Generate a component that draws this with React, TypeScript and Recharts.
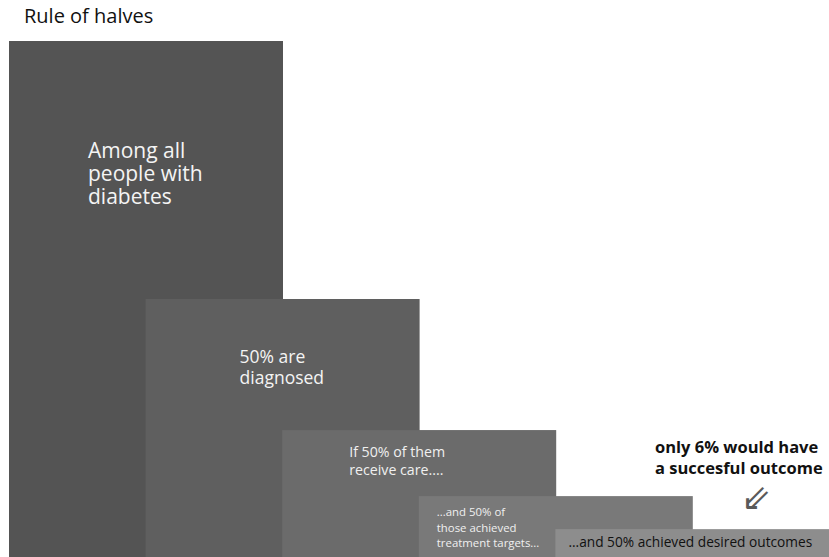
import { Bar, BarChart, XAxis, YAxis } from 'recharts';

// Each stage keeps roughly half of the one before it
const stages = ['all', 'diagnosed', 'care', 'targets', 'outcomes'];
const shares = [100, 50, 24.6, 11.8, 5.4];
const stageLabels = [
  ['Among all', 'people with', 'diabetes'],
  ['50% are', 'diagnosed'],
  ['If 50% of them', 'receive care....'],
  ['...and 50% of', 'those achieved', 'treatment targets...'],
  ['...and 50% achieved desired outcomes'],
];
const title = 'Rule of halves';
const note = ['only 6% would have', 'a succesful outcome'];

const fills = ['#545454', '#5f5f5f', '#6b6b6b', '#797979', '#8d8d8d'];
const labelStyle = [
  { dx: 79, dy: 117, size: 21, lh: 23, color: '#f4f4f4' },
  { dx: 94, dy: 64, size: 17.5, lh: 21, color: '#f4f4f4' },
  { dx: 67, dy: 27, size: 14.2, lh: 18, color: '#f0f0f0' },
  { dx: 18, dy: 20, size: 11.4, lh: 15.5, color: '#f0f0f0' },
  { dx: 13, dy: 18, size: 13.7, lh: 16, color: '#111111' },
];

const data = stages.map((stage, i) => ({ stage, share: shares[i] }));

const FONT = '"Open Sans", "Noto Sans", sans-serif';

function StageBlock(props: any) {
  const { x, y, width, height, index } = props;
  const s = labelStyle[index];
  return (
    <g>
      <rect x={x} y={y} width={width * 2} height={height} fill={fills[index]} />
      <text x={x + s.dx} y={y + s.dy} fill={s.color} fontSize={s.size} fontFamily={FONT}>
        {stageLabels[index].map((line, k) => (
          <tspan key={k} x={x + s.dx} dy={k === 0 ? 0 : s.lh}>
            {line}
          </tspan>
        ))}
      </text>
    </g>
  );
}

export default function App() {
  return (
    <div style={{ position: 'absolute', left: 0, top: 0, width: 829, height: 557, background: '#fff', fontFamily: FONT }}>
      <div style={{ position: 'absolute', left: 24, top: 2, fontSize: 20, color: '#111' }}>{title}</div>
      <BarChart
        width={829}
        height={557}
        data={data}
        margin={{ top: 41, right: 137, bottom: 0, left: 9 }}
        barCategoryGap={0}
        barGap={0}
      >
        <XAxis dataKey="stage" type="category" hide />
        <YAxis type="number" domain={[0, 100]} hide />
        <Bar dataKey="share" shape={StageBlock} isAnimationActive={false} />
      </BarChart>
      <div
        style={{
          position: 'absolute',
          left: 655,
          top: 437,
          fontSize: 16.5,
          fontWeight: 700,
          lineHeight: '20.5px',
          color: '#111',
          whiteSpace: 'nowrap',
        }}
      >
        {note.map((line, k) => (
          <div key={k}>{line}</div>
        ))}
      </div>
      <div
        style={{
          position: 'absolute',
          left: 741,
          top: 478,
          fontSize: 36,
          lineHeight: '40px',
          color: '#5a5a5a',
          fontFamily: '"DejaVu Sans", sans-serif',
        }}
      >
        ⇙
      </div>
    </div>
  );
}
